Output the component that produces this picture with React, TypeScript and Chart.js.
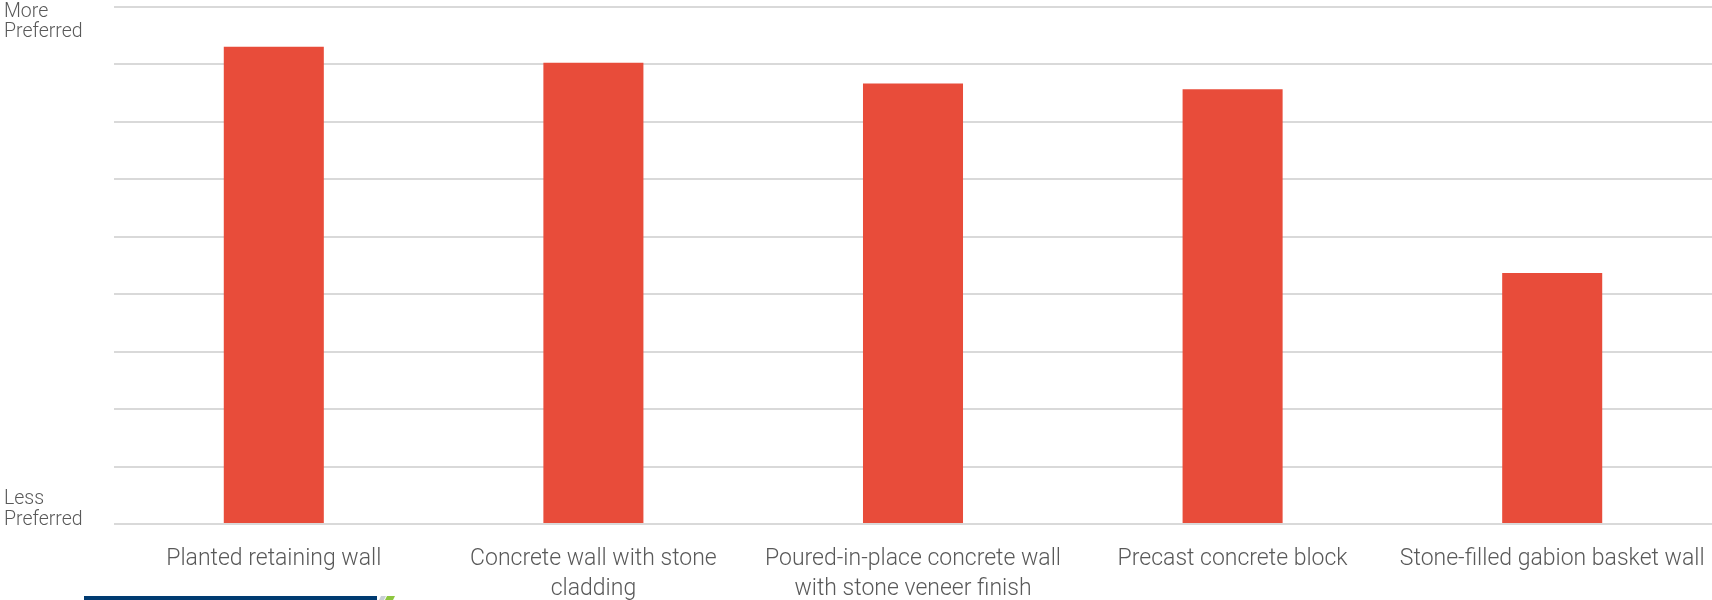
import React, { useEffect, useRef } from "react";
import { Chart, registerables } from "chart.js";

Chart.register(...registerables);

const categories: (string | string[])[] = [
  "Planted retaining wall",
  ["Concrete wall with stone", "cladding"],
  ["Poured-in-place concrete wall", "with stone veneer finish"],
  "Precast concrete block",
  "Stone-filled gabion basket wall",
];
const preferenceScores: number[] = [8.31, 8.03, 7.67, 7.57, 4.37];
const yTopLabel: string[] = ["More", "Preferred"];
const yBottomLabel: string[] = ["Less", "Preferred"];
const yMin = 0;
const yMax = 9;

const BAR_COLOR = "#E84C3A";
const TEXT_COLOR = "#595959";
const GRID_COLOR = "#D9D9D9";
const FONT = "Roboto";

const endLabelsPlugin = {
  id: "endLabels",
  afterDraw(chart: any) {
    const ctx = chart.ctx;
    const y = chart.scales.y;
    ctx.save();
    ctx.fillStyle = TEXT_COLOR;
    ctx.font = `300 19.5px ${FONT}`;
    ctx.textAlign = "left";
    ctx.textBaseline = "alphabetic";
    const top = y.getPixelForValue(yMax);
    const bottom = y.getPixelForValue(yMin);
    ctx.fillText(yTopLabel[0], 4, top + 9.7);
    ctx.fillText(yTopLabel[1], 4, top + 29.7);
    ctx.fillText(yBottomLabel[0], 4, bottom - 20);
    ctx.fillText(yBottomLabel[1], 4, bottom + 1);
    // decorative footer strip
    ctx.fillStyle = "#003B71";
    ctx.fillRect(84, 596, 293, 4);
    ctx.fillStyle = "#C9CFD6";
    ctx.beginPath();
    ctx.moveTo(379, 600);
    ctx.lineTo(381, 596);
    ctx.lineTo(386, 596);
    ctx.lineTo(384, 600);
    ctx.closePath();
    ctx.fill();
    ctx.fillStyle = "#8DC63F";
    ctx.beginPath();
    ctx.moveTo(385, 600);
    ctx.lineTo(387, 596);
    ctx.lineTo(395, 596);
    ctx.lineTo(393, 600);
    ctx.closePath();
    ctx.fill();
    ctx.restore();
  },
};

export default function App() {
  const canvasRef = useRef<HTMLCanvasElement | null>(null);

  useEffect(() => {
    document.body.style.margin = "0";
    const canvas = canvasRef.current;
    if (!canvas) return;
    const chart = new Chart(canvas, {
      type: "bar",
      data: {
        labels: categories as any,
        datasets: [
          {
            data: preferenceScores,
            backgroundColor: BAR_COLOR,
            borderWidth: 0,
            barPercentage: 0.313,
            categoryPercentage: 1,
          },
        ],
      },
      options: {
        animation: false,
        responsive: true,
        maintainAspectRatio: false,
        layout: { padding: { top: 7, left: 0, right: 0, bottom: 0 } },
        plugins: {
          legend: { display: false },
          tooltip: { enabled: false },
          title: { display: false },
        },
        scales: {
          x: {
            grid: { display: false, drawTicks: false },
            border: { display: false },
            ticks: {
              color: TEXT_COLOR,
              padding: 21,
              maxRotation: 0,
              autoSkip: false,
              font: { family: FONT, size: 23, weight: "300" as any, lineHeight: 1.28 },
            },
            afterFit(scale: any) {
              scale.height = 76;
              scale.paddingLeft = 0;
              scale.paddingRight = 0;
            },
          },
          y: {
            min: yMin,
            max: yMax,
            ticks: { display: false, stepSize: 1 },
            grid: { color: GRID_COLOR, lineWidth: 2, drawTicks: false },
            border: { display: false },
            afterFit(scale: any) {
              scale.width = 114;
            },
          },
        },
      },
      plugins: [endLabelsPlugin],
    });
    return () => chart.destroy();
  }, []);

  return (
    <div style={{ position: "relative", width: "1712px", height: "600px" }}>
      <canvas ref={canvasRef} />
    </div>
  );
}
